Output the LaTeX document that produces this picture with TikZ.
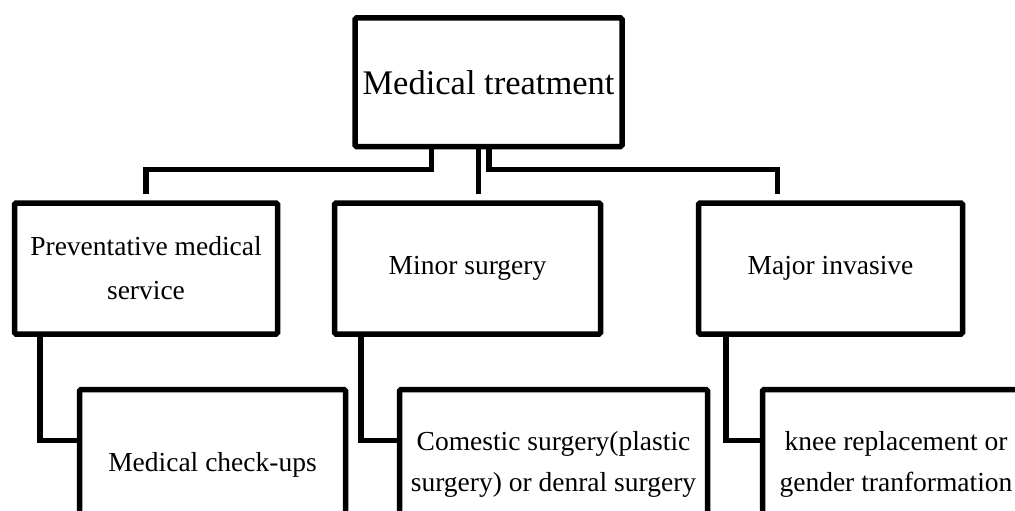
\documentclass[tikz,border=0pt]{standalone}
\usepackage{fontspec}
\setmainfont{Liberation Serif}
\begin{document}
\begin{tikzpicture}[x=1pt,y=-1pt,
  box/.style={draw,line width=5.5pt,rounded corners=1.5pt,fill=white,inner sep=0pt,align=center,
    font=\fontsize{27.5}{44}\selectfont},
  link/.style={line width=5.5pt}]
\clip (0,0) rectangle (1015,511);
\useasboundingbox (0,0) rectangle (1015,511);
% top
\node[box,minimum width=267pt,minimum height=128.5pt,font=\fontsize{34.5}{40}\selectfont] (top) at (488.5,82.25) {Medical treatment};
% second row
\node[box,minimum width=263pt,minimum height=131pt] (prev) at (146,268.5) {Preventative medical\\service};
\node[box,minimum width=266pt,minimum height=131pt] (minor) at (467.5,268.5) {Minor surgery};
\node[box,minimum width=264pt,minimum height=131pt] (major) at (830.5,268.5) {Major invasive};
% third row
\node[box,minimum width=266pt,minimum height=150pt,font=\fontsize{27.5}{41}\selectfont] (check) at (212.5,464.5) {Medical check-ups};
\node[box,minimum width=308pt,minimum height=150pt,font=\fontsize{27.5}{41}\selectfont] (cosm) at (553.5,464.5) {Comestic surgery(plastic\\surgery) or denral surgery};
\node[box,minimum width=267pt,minimum height=150pt,font=\fontsize{27.5}{41}\selectfont] (knee) at (896,464.5) {knee replacement or\\gender tranformation};
% junction coordinates
\coordinate (e1) at (146,194);
\coordinate (e2) at (478.5,194);
\coordinate (e3) at (777.5,194);
% top-level connectors
\draw[link] (top.south -| 431.5,0) |- (e1 |- 0,169.5) -- (e1);
\draw[link] (top.south -| e2) -- (e2);
\draw[link] (top.south -| 489,0) |- (e3 |- 0,169.5) -- (e3);
% second-level connectors
\draw[link] (prev.south -| 40,0) |- (check.west |- 0,440.5);
\draw[link] (minor.south -| 361,0) |- (cosm.west |- 0,440.5);
\draw[link] (major.south -| 726,0) |- (knee.west |- 0,440.5);
\end{tikzpicture}
\end{document}
